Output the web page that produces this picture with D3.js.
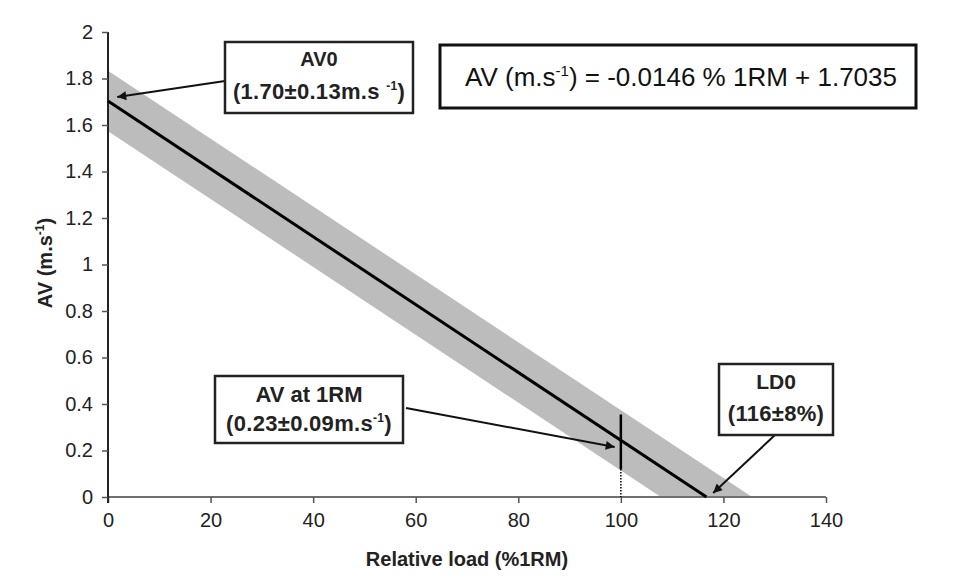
<!DOCTYPE html>
<html><head><meta charset="utf-8">
<script src="https://cdn.jsdelivr.net/npm/d3@7"></script>
<style>body{margin:0;background:#fff}svg{display:block}text{font-family:"Liberation Sans",Arial,sans-serif}</style>
</head><body>
<svg id="c" width="968" height="581"></svg>
<script>
const xTicks = [0,20,40,60,80,100,120,140];
const yTicks = [0,0.2,0.4,0.6,0.8,1,1.2,1.4,1.6,1.8,2];
const regLine = [[0,1.7035],[116.7,0]];
const bandPoly = [[0,1.8335],[125.6,0],[107.8,0],[0,1.5735]];
const rmLineSolid = [[100,0.355],[100,0.12]];
const rmLineDotted = [[100,0.12],[100,0]];
const annotations = [
  {title:"AV0", sub:"(1.70±0.13m.s ", sup:"-1", tail:")", box:[225,42,188,71], ty:59, sy:91, ts:20, from:[225,81], to:[1.8,1.72]},
  {title:"AV at 1RM", sub:"(0.23±0.09m.s", sup:"-1", tail:")", box:[215,376,188,67], ty:395, sy:423, ts:22, from:[406,408], to:[98.8,0.215]},
  {title:"LD0", sub:"(116±8%)", sup:"", tail:"", box:[719,364,114,71], ty:382, sy:413, ts:21, from:[775,435], to:[118,0.017]}
];

const svg = d3.select("#c");
const x = d3.scaleLinear().domain([0,140]).range([108,826]);
const y = d3.scaleLinear().domain([0,2]).range([497,32]);

// band
svg.append("path").attr("d", d3.line().x(d=>x(d[0])).y(d=>y(d[1]))(bandPoly)+"Z")
  .attr("fill","#bcbcbc");

// axes
const xa = svg.append("g").attr("transform","translate(0,497)")
  .call(d3.axisBottom(x).tickValues(xTicks).tickSize(6).tickPadding(10).tickFormat(d3.format("d")));
xa.select(".domain").attr("stroke","#707070").attr("stroke-width",2.2).attr("d","M108,0H826");
xa.selectAll(".tick line").attr("stroke","#555").attr("stroke-width",1.5);
xa.selectAll(".tick text").attr("font-size",20).attr("fill","#222");

const ya = svg.append("g").attr("transform","translate(108,0)")
  .call(d3.axisLeft(y).tickValues(yTicks).tickSize(6).tickPadding(9).tickFormat(d=>String(d)));
ya.select(".domain").attr("stroke","#222").attr("stroke-width",2).attr("d","M0,32V503");
ya.selectAll(".tick line").attr("stroke","#555").attr("stroke-width",1.5);
ya.selectAll(".tick text").attr("font-size",20).attr("fill","#222");

// regression line
const ln = d3.line().x(d=>x(d[0])).y(d=>y(d[1]));
svg.append("path").attr("d", ln(regLine)).attr("stroke","#000").attr("stroke-width",3).attr("fill","none");
svg.append("path").attr("d", ln(rmLineSolid)).attr("stroke","#000").attr("stroke-width",2.5).attr("fill","none");
svg.append("path").attr("d", ln(rmLineDotted)).attr("stroke","#000").attr("stroke-width",1.5)
  .attr("stroke-dasharray","1.5,1.5").attr("fill","none");

// axis titles
svg.append("text").attr("x",467).attr("y",566).attr("text-anchor","middle")
  .attr("font-size",20).attr("font-weight","bold").attr("fill","#222").text("Relative load (%1RM)");
const yt = svg.append("text").attr("transform","translate(52,263) rotate(-90)").attr("text-anchor","middle")
  .attr("font-size",20).attr("font-weight","bold").attr("fill","#222");
yt.append("tspan").text("AV (m.s");
yt.append("tspan").attr("font-size",12).attr("dy",-8).text("-1");
yt.append("tspan").attr("dy",8).text(")");

// equation box
svg.append("rect").attr("x",440).attr("y",45).attr("width",476).attr("height",63)
  .attr("fill","#fff").attr("stroke","#111").attr("stroke-width",3);
const eq = svg.append("text").attr("x",681).attr("y",86).attr("text-anchor","middle")
  .attr("font-size",26).attr("fill","#111");
eq.append("tspan").text("AV (m.s");
eq.append("tspan").attr("font-size",15).attr("dy",-10).text("-1");
eq.append("tspan").attr("dy",10).text(") = -0.0146 % 1RM + 1.7035");

// arrow marker
svg.append("defs").append("marker").attr("id","ah").attr("viewBox","0 0 10 10")
  .attr("refX",10).attr("refY",5).attr("markerWidth",13).attr("markerHeight",9)
  .attr("markerUnits","userSpaceOnUse").attr("orient","auto")
  .append("path").attr("d","M0,0L10,5L0,10Z").attr("fill","#111");

annotations.forEach(a=>{
  svg.append("line").attr("x1",a.from[0]).attr("y1",a.from[1])
    .attr("x2",x(a.to[0])).attr("y2",y(a.to[1]))
    .attr("stroke","#111").attr("stroke-width",2).attr("marker-end","url(#ah)");
  const [bx,by,bw,bh]=a.box;
  svg.append("rect").attr("x",bx).attr("y",by).attr("width",bw).attr("height",bh)
    .attr("fill","#fff").attr("stroke","#222").attr("stroke-width",2.5);
  svg.append("text").attr("x",bx+bw/2).attr("y",a.ty+7).attr("text-anchor","middle")
    .attr("font-size",a.ts).attr("font-weight","bold").attr("fill","#222").text(a.title);
  const t = svg.append("text").attr("x",bx+bw/2).attr("y",a.sy+8).attr("text-anchor","middle")
    .attr("font-size",22).attr("font-weight","bold").attr("letter-spacing",0.3).attr("fill","#222");
  t.append("tspan").text(a.sub);
  if(a.sup){ t.append("tspan").attr("font-size",12).attr("dy",-9).text(a.sup);
    t.append("tspan").attr("dy",9).text(a.tail); }
});
</script>
</body></html>
